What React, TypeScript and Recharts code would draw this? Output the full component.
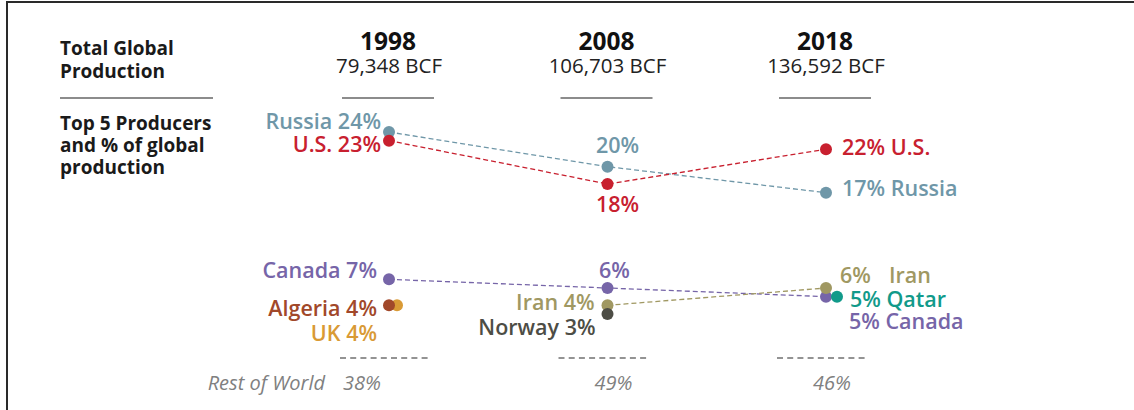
import React from 'react';
import { ComposedChart, Line, XAxis, YAxis } from 'recharts';

// ---- data ----
const years = [1998, 2008, 2018];
const totalBcf = ['79,348', '106,703', '136,592'];
const restOfWorld = [38, 49, 46];

const russia = [24, 20, 17];
const us = [23, 18, 22];
const canada = [7, 6, 5];
const iran = [null, 4, 6];
const algeria = [4, null, null];
const uk = [4, null, null];
const norway = [null, 3, null];
const qatar = [null, null, 5];

const FONT = '"Open Sans", "Noto Sans", sans-serif';
const W = 1134;
const H = 410;
const LABEL_SIZE = 21.5;

const data = years.map((year, i) => ({
  year,
  russia: russia[i],
  us: us[i],
  canada: canada[i],
  iran: iran[i],
  algeria: algeria[i],
  uk: uk[i],
  norway: norway[i],
  qatar: qatar[i],
}));

type LabelCfg = { fmt: 'left' | 'right' | 'value' | 'gap'; anchor: 'start' | 'middle' | 'end'; dx: number; dy: number } | null;

type SeriesCfg = {
  key: string;
  name: string;
  color: string;
  line: boolean;
  dotDx: number;
  labels: LabelCfg[];
};

const series: SeriesCfg[] = [
  {
    key: 'russia', name: 'Russia', color: '#6f97a8', line: true, dotDx: 0,
    labels: [
      { fmt: 'left', anchor: 'end', dx: -8, dy: -3 },
      { fmt: 'value', anchor: 'middle', dx: 10, dy: -14 },
      { fmt: 'right', anchor: 'start', dx: 16, dy: 3 },
    ],
  },
  {
    key: 'us', name: 'U.S.', color: '#c8202f', line: true, dotDx: 0,
    labels: [
      { fmt: 'left', anchor: 'end', dx: -8, dy: 11 },
      { fmt: 'value', anchor: 'middle', dx: 10, dy: 28 },
      { fmt: 'right', anchor: 'start', dx: 16, dy: 6 },
    ],
  },
  {
    key: 'canada', name: 'Canada', color: '#7665a8', line: true, dotDx: 0,
    labels: [
      { fmt: 'left', anchor: 'end', dx: -12, dy: -1 },
      { fmt: 'value', anchor: 'middle', dx: 7, dy: -10 },
      { fmt: 'right', anchor: 'start', dx: 23, dy: 32 },
    ],
  },
  {
    key: 'iran', name: 'Iran', color: '#a09862', line: true, dotDx: 0,
    labels: [
      null,
      { fmt: 'left', anchor: 'end', dx: -13, dy: 5 },
      { fmt: 'gap', anchor: 'start', dx: 14, dy: -5 },
    ],
  },
  {
    key: 'norway', name: 'Norway', color: '#4d4d45', line: false, dotDx: 0,
    labels: [null, { fmt: 'left', anchor: 'end', dx: -12, dy: 21 }, null],
  },
  {
    key: 'uk', name: 'UK', color: '#d99a35', line: false, dotDx: 8,
    labels: [{ fmt: 'left', anchor: 'end', dx: -12, dy: 36 }, null, null],
  },
  {
    key: 'algeria', name: 'Algeria', color: '#a1482a', line: false, dotDx: 0,
    labels: [{ fmt: 'left', anchor: 'end', dx: -12, dy: 11 }, null, null],
  },
  {
    key: 'qatar', name: 'Qatar', color: '#119a8a', line: false, dotDx: 11,
    labels: [null, null, { fmt: 'right', anchor: 'start', dx: 24, dy: 10 }],
  },
];

const makeDot = (s: SeriesCfg) => (props: any) => {
  const { cx, cy, value, index } = props;
  const v = Array.isArray(value) ? value[1] : value;
  if (v === null || v === undefined || cy === null || cy === undefined || isNaN(cy)) {
    return <g key={`${s.key}-${index}`} />;
  }
  const cfg = s.labels[index];
  let content: React.ReactNode = null;
  if (cfg) {
    if (cfg.fmt === 'left') content = `${s.name} ${v}%`;
    else if (cfg.fmt === 'right') content = `${v}% ${s.name}`;
    else if (cfg.fmt === 'value') content = `${v}%`;
    else content = (
      <>
        <tspan>{`${v}%`}</tspan>
        <tspan dx={18}>{s.name}</tspan>
      </>
    );
  }
  return (
    <g key={`${s.key}-${index}`}>
      <circle cx={cx + s.dotDx} cy={cy} r={6} fill={s.color} />
      {cfg && (
        <text
          x={cx + cfg.dx}
          y={cy + cfg.dy}
          textAnchor={cfg.anchor}
          fontFamily={FONT}
          fontWeight={600}
          fontSize={LABEL_SIZE}
          fill={s.color}
        >
          {content}
        </text>
      )}
    </g>
  );
};

const YearTick = (props: any) => {
  const { x, payload, index } = props;
  const i = years.indexOf(payload.value);
  const idx = i >= 0 ? i : index;
  return (
    <g>
      <text x={x - 1} y={50} textAnchor="middle" fontFamily={FONT} fontWeight={700} fontSize={24.5} fill="#111">
        {years[idx]}
      </text>
      <text x={x} y={73} textAnchor="middle" fontFamily={FONT} fontWeight={400} fontSize={20.5} fill="#222">
        {`${totalBcf[idx]} BCF`}
      </text>
      <line x1={x - 47} x2={x + 45} y1={98} y2={98} stroke="#666" strokeWidth={1.5} />
      <line x1={x - 49} x2={x + 42} y1={358} y2={358} stroke="#707070" strokeWidth={1.6} strokeDasharray="6 4.2" />
      <text
        x={idx === 0 ? x - 46 : x + 6}
        y={390}
        textAnchor={idx === 0 ? 'start' : 'middle'}
        fontFamily={FONT}
        fontStyle="italic"
        fontSize={20}
        fill="#808080"
      >
        {`${restOfWorld[idx]}%`}
      </text>
    </g>
  );
};

export default function App() {
  return (
    <div style={{ position: 'absolute', left: 0, top: 0, width: W, height: H, background: '#fff', overflow: 'hidden' }}>
      <div
        style={{
          position: 'absolute',
          left: 6,
          top: 1,
          width: W,
          height: H,
          borderTop: '2px solid #2a2a2a',
          borderLeft: '2px solid #2a2a2a',
          boxSizing: 'border-box',
        }}
      />
      <ComposedChart
        width={W}
        height={H}
        data={data}
        margin={{ top: 80, right: 308, bottom: 0, left: 389 }}
        style={{ position: 'absolute', left: 0, top: 0 }}
      >
        <XAxis
          dataKey="year"
          type="number"
          domain={[1998, 2018]}
          ticks={years}
          height={70}
          axisLine={false}
          tickLine={false}
          tick={<YearTick />}
          interval={0}
        />
        <YAxis hide type="number" domain={[0, 30]} />
        <g>
          <text x={60} y={55} fontFamily={FONT} fontWeight={700} fontSize={19} fill="#1a1a1a">Total Global</text>
          <text x={60} y={78} fontFamily={FONT} fontWeight={700} fontSize={19} fill="#1a1a1a">Production</text>
          <line x1={60} x2={213} y1={98} y2={98} stroke="#666" strokeWidth={1.5} />
          <text x={60} y={130} fontFamily={FONT} fontWeight={700} fontSize={19} fill="#1a1a1a">Top 5 Producers</text>
          <text x={60} y={152} fontFamily={FONT} fontWeight={700} fontSize={19} fill="#1a1a1a">and % of global</text>
          <text x={60} y={174} fontFamily={FONT} fontWeight={700} fontSize={19} fill="#1a1a1a">production</text>
          <text x={325} y={390} textAnchor="end" fontFamily={FONT} fontStyle="italic" fontSize={20} fill="#808080">Rest of World</text>
        </g>
        {series.map((s) => (
          <Line
            key={s.key}
            dataKey={s.key}
            type="linear"
            stroke={s.line ? s.color : 'none'}
            strokeWidth={1.3}
            strokeDasharray="5 3"
            dot={makeDot(s)}
            activeDot={false}
            connectNulls={false}
            isAnimationActive={false}
          />
        ))}
      </ComposedChart>
    </div>
  );
}
